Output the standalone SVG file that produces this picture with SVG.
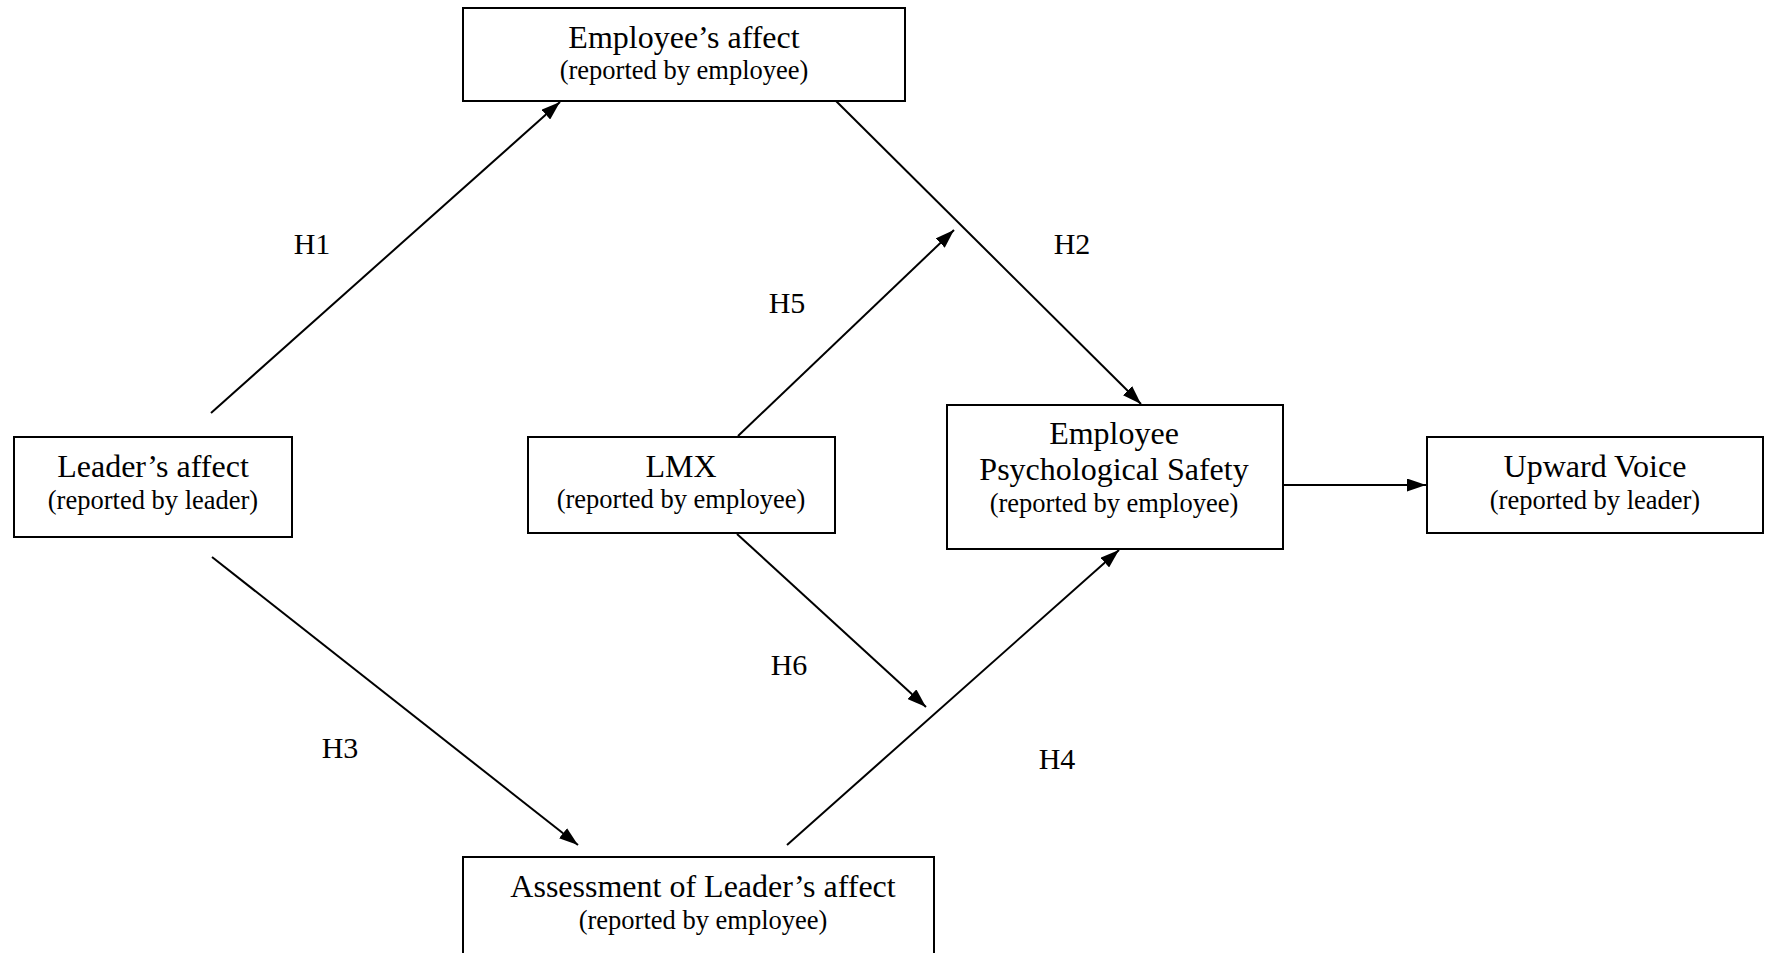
<svg xmlns="http://www.w3.org/2000/svg" width="1769" height="953" viewBox="0 0 1769 953">
<style>
.box{fill:#fff;stroke:#000;stroke-width:2}
.t{font-family:"Liberation Serif","Times New Roman",serif;font-size:32px;fill:#000;text-anchor:middle}
.s{font-family:"Liberation Serif","Times New Roman",serif;font-size:26.5px;fill:#000;text-anchor:middle}
.h{font-family:"Liberation Serif","Times New Roman",serif;font-size:30px;fill:#000;text-anchor:middle}
.c{stroke:#000;stroke-width:2;fill:none;marker-end:url(#ah)}
</style>
<defs>
<marker id="ah" markerUnits="userSpaceOnUse" markerWidth="19" markerHeight="13" refX="19" refY="6.5" orient="auto">
<path d="M0,0 L19,6.5 L0,13 z" fill="#000"/>
</marker>
</defs>
<rect width="1769" height="953" fill="#fff"/>
<g id="connectors">
<line class="c" x1="211" y1="413" x2="560" y2="102"/>
<line class="c" x1="836" y1="101" x2="1141" y2="404"/>
<line class="c" x1="738" y1="436" x2="954" y2="230"/>
<line class="c" x1="212" y1="557" x2="578" y2="845"/>
<line class="c" x1="737" y1="534" x2="926" y2="707"/>
<line class="c" x1="787" y1="845" x2="1119" y2="550"/>
<line class="c" x1="1283" y1="485" x2="1426" y2="485"/>
</g>
<g id="labels">
<text class="h" x="312" y="254">H1</text>
<text class="h" x="1072" y="254">H2</text>
<text class="h" x="340" y="758">H3</text>
<text class="h" x="1057" y="769">H4</text>
<text class="h" x="787" y="313">H5</text>
<text class="h" x="789" y="675">H6</text>
</g>
<g id="employee-affect">
<rect class="box" x="463" y="8" width="442" height="93"/>
<text class="t" x="684" y="48">Employee’s affect</text>
<text class="s" x="684" y="79">(reported by employee)</text>
</g>
<g id="leader-affect">
<rect class="box" x="14" y="437" width="278" height="100"/>
<text class="t" x="153" y="477">Leader’s affect</text>
<text class="s" x="153" y="509">(reported by leader)</text>
</g>
<g id="lmx">
<rect class="box" x="528" y="437" width="307" height="96"/>
<text class="t" x="681" y="477">LMX</text>
<text class="s" x="681" y="508">(reported by employee)</text>
</g>
<g id="psych-safety">
<rect class="box" x="947" y="405" width="336" height="144"/>
<text class="t" x="1114" y="444">Employee</text>
<text class="t" x="1114" y="480">Psychological Safety</text>
<text class="s" x="1114" y="512">(reported by employee)</text>
</g>
<g id="upward-voice">
<rect class="box" x="1427" y="437" width="336" height="96"/>
<text class="t" x="1595" y="477">Upward Voice</text>
<text class="s" x="1595" y="509">(reported by leader)</text>
</g>
<g id="assessment">
<rect class="box" x="463" y="857" width="471" height="110"/>
<text class="t" x="703" y="897">Assessment of Leader’s affect</text>
<text class="s" x="703" y="929">(reported by employee)</text>
</g>
</svg>
